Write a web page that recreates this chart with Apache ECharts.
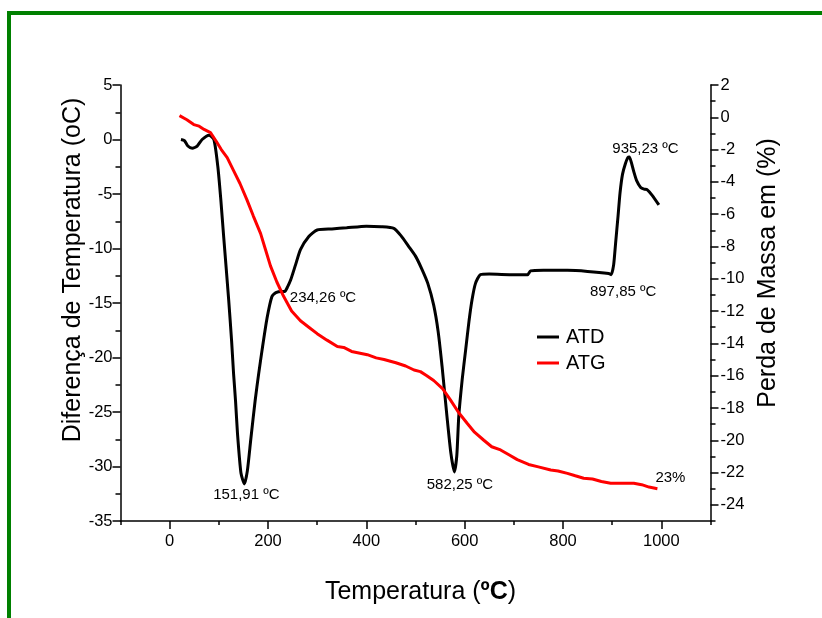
<!DOCTYPE html>
<html>
<head>
<meta charset="utf-8">
<script src="https://cdn.jsdelivr.net/npm/echarts@6/dist/echarts.min.js"></script>
<style>
html,body{margin:0;padding:0;background:#fff;}
#chart{width:822px;height:618px;}
</style>
</head>
<body>
<div id="chart"></div>
<script>
// ---- Data ----
const atdT = [23, 30, 37, 46, 56, 66, 80, 90, 98, 104, 110, 120, 126, 130, 134, 138, 145, 152, 158, 165, 174, 181, 188, 198, 208, 216, 228, 234, 240, 246, 256, 266, 283, 300, 330, 360, 400, 430, 456, 470, 486, 500, 512, 525, 537, 546, 554, 564, 572, 579, 584, 588, 595, 602, 609, 615, 622, 632, 650, 700, 728, 734, 760, 809, 850, 893, 898, 903, 907, 912, 916, 921, 927, 932, 935, 939, 944, 950, 958, 965, 971, 981, 995];
const atdV = [0.0, -0.1, -0.6, -0.8, -0.6, 0.0, 0.4, 0.0, -2.5, -5.5, -9.0, -14.7, -18.5, -21.5, -24.0, -27.0, -30.6, -31.6, -30.4, -27.5, -23.9, -21.5, -19.3, -16.4, -14.4, -14.05, -13.95, -13.95, -13.5, -12.9, -11.5, -10.1, -8.9, -8.3, -8.2, -8.1, -7.95, -8.0, -8.15, -8.8, -9.8, -10.7, -11.8, -13.2, -15.2, -17.6, -20.8, -25.4, -28.8, -30.5, -29.0, -25.4, -22.0, -19.3, -16.6, -14.7, -13.2, -12.4, -12.35, -12.4, -12.4, -12.05, -12.0, -12.0, -12.1, -12.3, -12.4, -11.5, -9.5, -7.0, -4.9, -3.2, -2.2, -1.65, -1.6, -2.1, -2.95, -3.8, -4.4, -4.55, -4.6, -5.1, -6.0];

const atgT = [20, 22, 35, 49, 60, 70, 83, 95, 105, 117, 130, 143, 157, 170, 185, 195, 205, 218, 232, 248, 266, 283, 300, 320, 341, 354, 370, 402, 420, 436, 460, 480, 497, 510, 523, 537, 555, 571, 588, 605, 620, 639, 655, 673, 690, 707, 730, 750, 775, 790, 809, 825, 842, 860, 878, 897, 920, 944, 960, 975, 992];
const atgV = [0.1, 0.0, -0.15, -0.45, -0.55, -0.75, -0.95, -1.5, -2.0, -2.5, -3.3, -4.1, -5.1, -6.1, -7.2, -8.2, -9.2, -10.2, -11.1, -12.0, -12.6, -13.0, -13.4, -13.8, -14.2, -14.25, -14.5, -14.7, -14.9, -15.0, -15.2, -15.4, -15.65, -15.75, -16.0, -16.3, -16.8, -17.5, -18.3, -18.95, -19.5, -20.0, -20.4, -20.6, -20.9, -21.2, -21.5, -21.65, -21.84, -21.9, -22.05, -22.2, -22.35, -22.4, -22.55, -22.66, -22.66, -22.66, -22.75, -22.9, -23.0];

// peak annotations (ATD)
const peakT = [151.91, 234.26, 582.25, 897.85, 935.23];
const peakV = [-31.6, -13.95, -30.5, -12.4, -1.6];
const peakText = ['151,91 ºC', '234,26 ºC', '582,25 ºC', '897,85 ºC', '935,23 ºC'];
// mass loss annotation (ATG)
const lossT = [992];
const lossV = [-23.0];
const lossText = ['23%'];

// axis ticks/labels
const xLabels = [0, 200, 400, 600, 800, 1000];
const xMinor = [-100, 100, 300, 500, 700, 900, 1100];
const rLabels = [-24, -22, -20, -18, -16, -14, -12, -10, -8, -6, -4, -2, 0, 2];
const rMinor = [-25, -23, -21, -19, -17, -15, -13, -11, -9, -7, -5, -3, -1, 1];

// ---- Chart ----
const FONT = "'Liberation Sans', Arial, sans-serif";
const black = '#000';
const zip = (a, b) => a.map((v, i) => [v, b[i]]);

const peakStyle = [
  {position: 'bottom', offset: [2, 0]},
  {position: 'right', offset: [2, 6]},
  {position: 'bottom', offset: [4, 2]},
  {position: 'bottom', offset: [12, 7]},
  {position: 'top', offset: [16, 2]}
];

const chart = echarts.init(document.getElementById('chart'), null, {renderer: 'canvas'});
const axisLineStyle = {color: black, width: 1.5};

chart.setOption({
  animation: false,
  backgroundColor: '#fff',
  graphic: [{
    type: 'polyline',
    shape: {points: [[9, 618], [9, 13], [822, 13]]},
    style: {stroke: '#008000', lineWidth: 4, fill: null}
  }],
  grid: {left: 120.5, right: 111.5, top: 85, bottom: 97, containLabel: false},
  legend: {
    left: 532, top: 322, orient: 'vertical', itemGap: 6,
    itemWidth: 22, itemHeight: 3, icon: 'rect',
    textStyle: {fontFamily: FONT, fontSize: 20, color: black, padding: [0, 0, 0, 2]},
    data: ['ATD', 'ATG']
  },
  xAxis: [{
    type: 'value', min: -100, max: 1100, position: 'bottom',
    name: 'Temperatura ({b|ºC})', nameLocation: 'middle', nameGap: 59,
    nameTextStyle: {fontFamily: FONT, fontSize: 25, color: black, padding: [0, 0, 0, 10],
      rich: {b: {fontFamily: FONT, fontSize: 25, fontWeight: 'bold', color: black}}},
    axisLine: {show: true, onZero: false, lineStyle: axisLineStyle},
    axisTick: {show: true, length: 8, lineStyle: axisLineStyle, customValues: xLabels},
    axisLabel: {fontFamily: FONT, fontSize: 16.5, color: black, margin: 12, customValues: xLabels,
      formatter: v => String(v)},
    splitLine: {show: false}
  }, {
    type: 'value', min: -100, max: 1100, position: 'bottom',
    axisLine: {show: false, onZero: false},
    axisTick: {show: true, length: 4, lineStyle: axisLineStyle, customValues: xMinor},
    axisLabel: {show: false},
    splitLine: {show: false}
  }],
  yAxis: [{
    type: 'value', min: -35, max: 5, interval: 5, position: 'left',
    name: 'Diferença de Temperatura (oC)', nameLocation: 'middle', nameRotate: 90, nameGap: 35,
    nameMoveOverlap: false,
    nameTextStyle: {fontFamily: FONT, fontSize: 25, color: black, padding: [0, 0, 0, 66]},
    axisLine: {show: true, onZero: false, lineStyle: axisLineStyle},
    axisTick: {show: true, length: 8, lineStyle: axisLineStyle},
    minorTick: {show: true, splitNumber: 2, length: 5, lineStyle: axisLineStyle},
    axisLabel: {fontFamily: FONT, fontSize: 16.5, color: black, margin: 8},
    splitLine: {show: false}, minorSplitLine: {show: false}
  }, {
    type: 'value', min: -25, max: 2, position: 'right',
    name: 'Perda de Massa em (%)', nameLocation: 'middle', nameRotate: 90, nameGap: 40,
    nameTextStyle: {fontFamily: FONT, fontSize: 25, color: black, padding: [0, 0, 0, 60]},
    axisLine: {show: true, onZero: false, lineStyle: axisLineStyle},
    axisTick: {show: true, length: 8, lineStyle: axisLineStyle, customValues: rLabels},
    axisLabel: {fontFamily: FONT, fontSize: 16.5, color: black, margin: 10, customValues: rLabels},
    splitLine: {show: false}
  }, {
    type: 'value', min: -25, max: 2, position: 'right',
    axisLine: {show: false, onZero: false},
    axisTick: {show: true, length: 5, lineStyle: axisLineStyle, customValues: rMinor},
    axisLabel: {show: false},
    splitLine: {show: false}
  }],
  series: [{
    name: 'ATD', type: 'line', xAxisIndex: 0, yAxisIndex: 0,
    data: zip(atdT, atdV), showSymbol: false, symbol: 'none', smooth: 0.2,
    lineStyle: {color: black, width: 3}, itemStyle: {color: black},
    markPoint: {
      symbol: 'circle', symbolSize: 0,
      data: peakT.map((t, i) => ({
        coord: [t, peakV[i]], value: peakText[i],
        label: {show: true, formatter: peakText[i], position: peakStyle[i].position, offset: peakStyle[i].offset,
          distance: 3, fontFamily: FONT, fontSize: 15, color: black}
      }))
    }
  }, {
    name: 'ATG', type: 'line', xAxisIndex: 0, yAxisIndex: 1,
    data: zip(atgT, atgV), showSymbol: false, symbol: 'none',
    lineStyle: {color: '#ff0000', width: 3}, itemStyle: {color: '#ff0000'},
    markPoint: {
      symbol: 'circle', symbolSize: 0,
      data: lossT.map((t, i) => ({
        coord: [t, lossV[i]], value: lossText[i],
        label: {show: true, formatter: lossText[i], position: 'top', offset: [13, 2],
          fontFamily: FONT, fontSize: 15, color: black}
      }))
    }
  }]
});
</script>
</body>
</html>
